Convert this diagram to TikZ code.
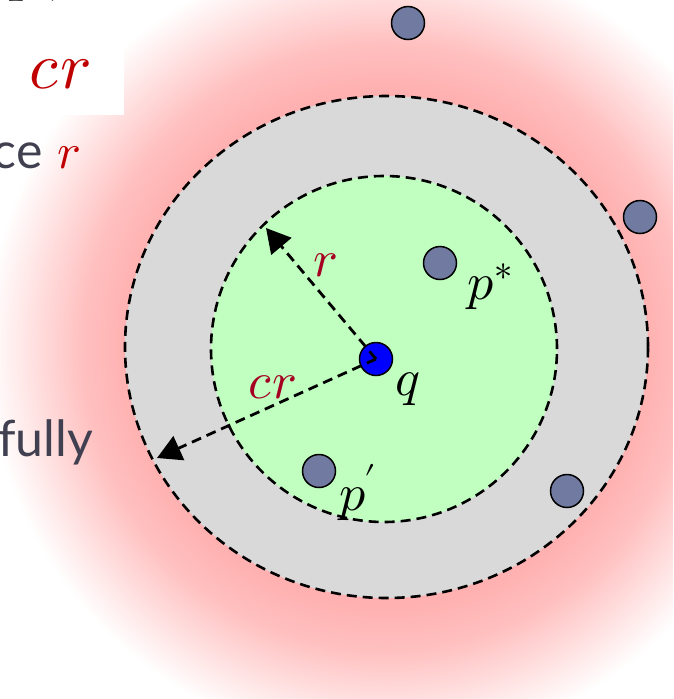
\documentclass[tikz,border=0pt]{standalone}
\usepackage{fontspec}
\usepackage{unicode-math}
\setmathfont{Latin Modern Math}
\setsansfont{Lato}
\usetikzlibrary{arrows.meta}
\definecolor{glowpink}{RGB}{255,176,176}
\definecolor{ringgray}{RGB}{217,217,217}
\definecolor{coregreen}{RGB}{192,255,192}
\definecolor{ptfill}{RGB}{113,122,160}
\definecolor{txtgray}{RGB}{64,64,80}
\definecolor{lblred}{RGB}{165,0,33}
\definecolor{titlered}{RGB}{192,0,0}
\pgfdeclareradialshading{glow}{\pgfpoint{0bp}{0bp}}{color(0bp)=(glowpink); color(16bp)=(glowpink); color(19bp)=(glowpink!80!white); color(22bp)=(glowpink!40!white); color(25bp)=(white); color(50bp)=(white)}
\tikzset{
  pt/.style={circle, draw=black, line width=1.5pt, fill=ptfill, minimum size=33pt, inner sep=0pt},
  dashline/.style={line width=2.8pt, dash pattern=on 10pt off 6pt},
  ringline/.style={line width=2.6pt, dash pattern=on 10pt off 6pt},
  arrowdash/.style={dashline, -{Triangle[length=24pt,width=26pt]}},
  lbl/.style={inner sep=0pt, text=lblred, font=\fontsize{52}{60}\selectfont},
  ptlbl/.style={inner sep=0pt, text=black, font=\fontsize{52}{60}\selectfont},
  sidetxt/.style={inner sep=0pt, font=\fontsize{50}{58}\selectfont}
}
\begin{document}
\begin{tikzpicture}[x=1pt,y=-1pt]
\useasboundingbox (0,0) rectangle (673,699);
\clip (0,0) rectangle (673,699);
% glow
\shade[shading=glow] (386,347) circle[radius=400pt];
% white cover over text area
\fill[white] (0,0) rectangle (124,115);
% outer ring
\filldraw[fill=ringgray, draw=black, ringline] (386.5,347) ellipse[x radius=261.5pt, y radius=251pt];
% inner disk
\filldraw[fill=coregreen, draw=black, ringline] (384,349) circle[radius=173pt];
% points
\node[pt] (p1) at (408,23) {};
\node[pt] (p2) at (640,217) {};
\node[pt] (pstar) at (440,263) {};
\node[pt] (pprime) at (319,471) {};
\node[pt] (p5) at (567,491) {};
\node[pt, fill=blue] (q) at (376,359) {};
% arrows
\coordinate (rtip) at (266,228);
\coordinate (crtip) at (157,458);
\draw[arrowdash] (q.center) -- (rtip);
\draw[arrowdash] (q.center) -- (crtip);
% labels
\node[lbl, anchor=base west] (lr) at (313,276) {$r$};
\node[lbl, anchor=base west] (lcr) at (248,398) {$cr$};
\node[ptlbl, anchor=base west] (lpstar) at (467,299) {$p^*$};
\node[ptlbl, anchor=base west] (lq) at (395,395) {$q$};
\node[ptlbl, anchor=base west] (lpprime) at (339,510) {$p\kern-2pt'$};
% side text fragments
\node[sidetxt, anchor=base east, font=\fontsize{66}{70}\selectfont] (tp) at (64,-12) {$p,$};
\node[sidetxt, anchor=base east, text=titlered, font=\fontsize{66}{70}\selectfont] (tcr) at (91,88) {$cr$};
\node[sidetxt, anchor=base east] (tce) at (81,168) {{\color{txtgray}\sffamily ce} {\color{titlered}$r$}};
\node[sidetxt, anchor=base east, text=txtgray] (tfully) at (93,456) {\sffamily fully};
\end{tikzpicture}
\end{document}
